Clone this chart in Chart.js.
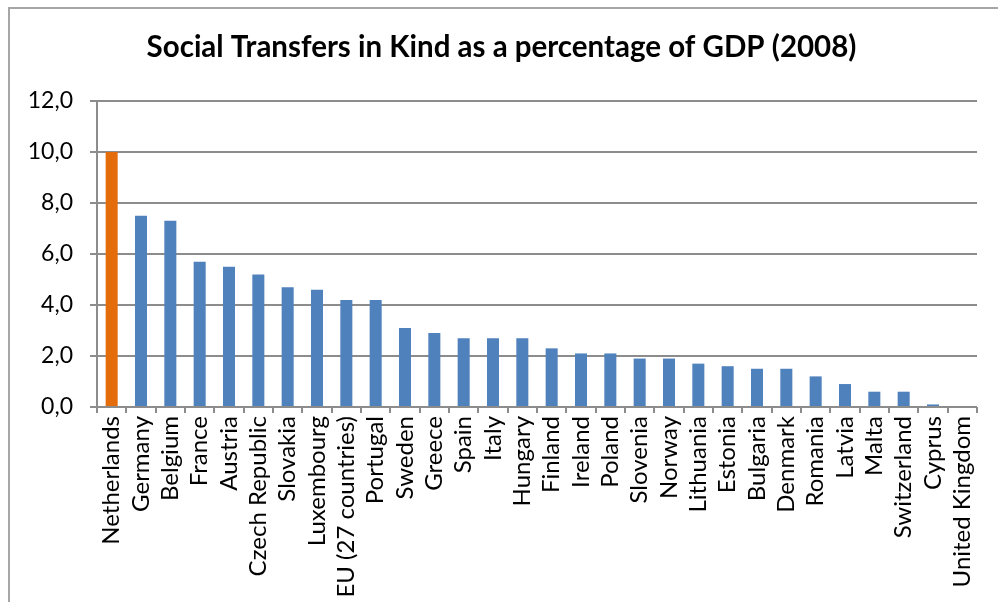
<!DOCTYPE html>
<html>
<head>
<meta charset="utf-8">
<script src="https://cdn.jsdelivr.net/npm/chart.js@4"></script>
<style>
  html, body { margin: 0; padding: 0; background: #fff; overflow: hidden; }
  #wrap { position: relative; width: 998px; height: 602px; }
  #frame {
    position: absolute; left: 8px; top: 7px; width: 1100px; height: 700px;
    border-left: 2px solid #a6a6a6; border-top: 2px solid #a6a6a6;
    pointer-events: none;
  }
</style>
</head>
<body>
<div id="wrap">
  <canvas id="transfersChart" width="998" height="602"></canvas>
  <div id="frame"></div>
</div>
<script>
const countries = ['Netherlands', 'Germany', 'Belgium', 'France', 'Austria', 'Czech Republic',
    'Slovakia', 'Luxembourg', 'EU (27 countries)', 'Portugal', 'Sweden', 'Greece', 'Spain',
    'Italy', 'Hungary', 'Finland', 'Ireland', 'Poland', 'Slovenia', 'Norway', 'Lithuania',
    'Estonia', 'Bulgaria', 'Denmark', 'Romania', 'Latvia', 'Malta', 'Switzerland', 'Cyprus',
    'United Kingdom'];
const pctOfGdp = [10.0, 7.5, 7.3, 5.7, 5.5, 5.2, 4.7, 4.6, 4.2, 4.2, 3.1, 2.9, 2.7, 2.7, 2.7,
    2.3, 2.1, 2.1, 1.9, 1.9, 1.7, 1.6, 1.5, 1.5, 1.2, 0.9, 0.6, 0.6, 0.1, 0.0];
const highlighted = 'Netherlands';

const gridGrey = '#8c8c8c';
const barColors = countries.map(c => c === highlighted ? '#e46c0a' : '#4f81bd');

const ctx = document.getElementById('transfersChart').getContext('2d');
const transfersChart = new Chart(ctx, {
    type: 'bar',
    data: {
        labels: countries,
        datasets: [{
            data: pctOfGdp,
            backgroundColor: barColors,
            borderWidth: 0,
            categoryPercentage: 1,
            barPercentage: 0.41
        }]
    },
    options: {
        responsive: false,
        animation: false,
        // a little left padding nudges the title towards the plot centre
        layout: { padding: { left: 26, right: 21, top: 0, bottom: 0 } },
        plugins: {
            legend: { display: false },
            tooltip: { enabled: false },
            title: {
                display: true,
                text: 'Social Transfers in Kind as a percentage of GDP (2008)',
                color: '#000',
                font: { family: 'Lato', size: 29.5, weight: 'bold' },
                padding: { top: 30, bottom: 35.6 }
            }
        },
        scales: {
            x: {
                grid: {
                    offset: true,
                    drawOnChartArea: false,
                    drawTicks: true,
                    tickLength: 6,
                    color: gridGrey,
                    lineWidth: 2
                },
                border: { display: false },
                ticks: {
                    autoSkip: false,
                    minRotation: 90,
                    maxRotation: 90,
                    padding: 3,
                    color: '#000',
                    font: { family: 'Lato', size: 24 }
                },
                afterFit: scale => { scale.height = 195; }
            },
            y: {
                min: 0,
                max: 12,
                ticks: {
                    stepSize: 2,
                    padding: 17,
                    color: '#000',
                    font: { family: 'Lato', size: 23 },
                    callback: v => v.toFixed(1).replace('.', ',')
                },
                grid: {
                    color: gridGrey,
                    lineWidth: 2,
                    tickLength: 7
                },
                border: { color: gridGrey, width: 2 },
                afterFit: scale => { scale.width = 71; }
            }
        }
    }
});
</script>
</body>
</html>
